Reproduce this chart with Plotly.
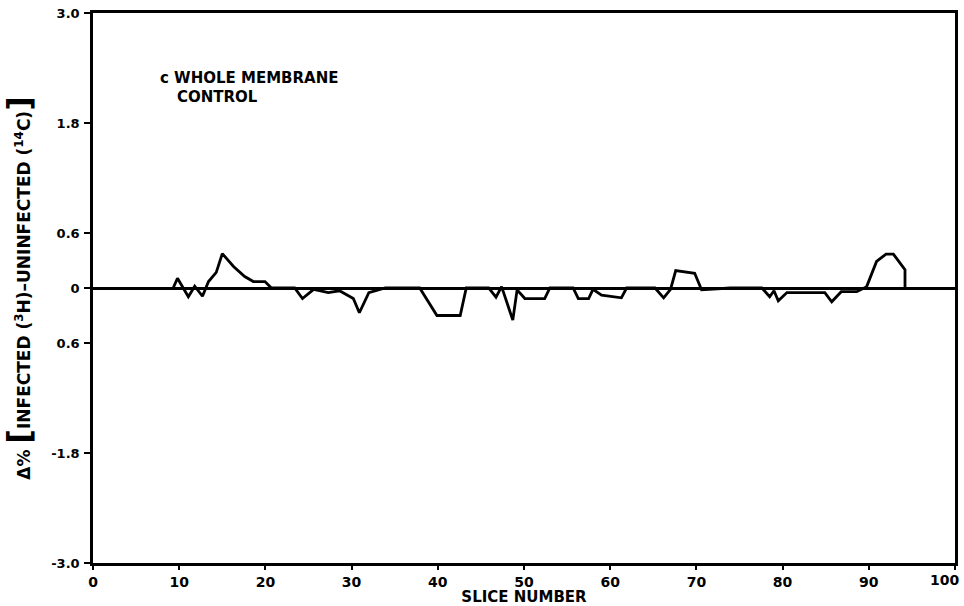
import plotly.graph_objects as go

# Difference profile along the gel (slice number vs delta %)
slice_no = [9.3, 9.8, 11.06, 11.8, 12.7, 13.4, 14.3, 15.0, 16.3, 17.6, 18.6, 19.95, 20.7,
            23.4, 24.3, 25.6, 27.3, 28.6, 30.2, 30.9, 32.0, 33.9,
            37.9, 39.9, 42.6, 43.3,
            45.9, 46.75, 47.4, 48.7, 49.2, 50.1, 52.4, 53.0,
            55.7, 56.3, 57.5, 58.0, 59.0, 61.3, 61.9,
            65.2, 66.2, 67.0, 67.6, 69.8, 70.6, 73.9,
            77.6, 78.5, 79.0, 79.5, 80.5, 84.9, 85.7, 86.8, 88.6, 89.75, 90.9, 92.0, 92.85, 94.2, 94.2]
delta_pct = [0.0, 0.107, -0.096, 0.02, -0.09, 0.07, 0.17, 0.375, 0.235, 0.125, 0.07, 0.07, 0.0,
             0.0, -0.115, -0.015, -0.05, -0.03, -0.115, -0.27, -0.05, 0.0,
             0.0, -0.30, -0.30, 0.0,
             0.0, -0.10, 0.015, -0.35, -0.02, -0.115, -0.115, 0.0,
             0.0, -0.115, -0.115, -0.015, -0.077, -0.107, 0.0,
             0.0, -0.107, -0.015, 0.19, 0.16, -0.02, 0.0,
             0.0, -0.095, -0.03, -0.14, -0.05, -0.05, -0.15, -0.04, -0.04, 0.015, 0.29, 0.37, 0.37, 0.2, 0.0]

x_ticks = [0, 10, 20, 30, 40, 50, 60, 70, 80, 90, 100]
x_tick_labels = ["0", "10", "20", "30", "40", "50", "60", "70", "80", "90", "100"]
y_ticks = [3.0, 1.8, 0.6, 0.0, -0.6, -1.8, -3.0]
y_tick_labels = ["3.0", "1.8", "0.6", "0", "0.6", "-1.8", "-3.0"]

FONT = "DejaVu Sans"
TICK_FONT = dict(family=FONT, size=14, color="black", weight="bold")

fig = go.Figure()
fig.add_trace(go.Scatter(
    x=slice_no, y=delta_pct, mode="lines",
    line=dict(color="black", width=2.8, shape="linear"),
    showlegend=False, hoverinfo="skip",
))

# The last x label sits flush against the right edge, so it is placed
# as a right-anchored annotation instead of a centred tick label.
axis_labels = x_tick_labels[:-1] + [""]
edge_label = dict(
    x=x_ticks[-1], y=0, xref="x", yref="paper",
    xanchor="right", yanchor="top", xshift=6, yshift=-7,
    showarrow=False, text=x_tick_labels[-1], font=TICK_FONT,
)

fig.update_layout(
    width=964, height=606,
    margin=dict(l=93, r=9, t=13, b=43),
    paper_bgcolor="white", plot_bgcolor="white",
    font=dict(family=FONT, color="black", size=13),
    xaxis=dict(
        range=[0, 100], tickvals=x_ticks, ticktext=axis_labels,
        automargin=False,
        showgrid=False, zeroline=False,
        showline=True, linecolor="black", linewidth=2.5, mirror=True,
        ticks="outside", ticklen=4, tickwidth=2, tickcolor="black",
        ticklabelstandoff=0,
        tickfont=TICK_FONT,
        title=dict(text="SLICE NUMBER", standoff=4,
                   font=dict(family=FONT, size=15, color="black", weight="bold")),
    ),
    yaxis=dict(
        range=[-3.0, 3.0], tickvals=y_ticks, ticktext=y_tick_labels,
        automargin=False,
        showgrid=False, zeroline=True, zerolinecolor="black", zerolinewidth=2.5,
        showline=True, linecolor="black", linewidth=2.5, mirror=True,
        ticks="outside", ticklen=6, tickwidth=2, tickcolor="black",
        ticklabelstandoff=2,
        tickfont=dict(family=FONT, size=13, color="black", weight="bold"),
        title=dict(
            text="Δ% <span style='font-size:32px'>[</span>INFECTED (<sup>3</sup>H)–UNINFECTED (<sup>14</sup>C)<span style='font-size:32px'>]</span>",
            standoff=22,
            font=dict(family=FONT, size=17, color="black", weight="bold"),
        ),
    ),
    annotations=[
        dict(x=0.0754, y=0.8827, xref="paper", yref="paper", xanchor="left", yanchor="middle",
             showarrow=False, align="left",
             text="c WHOLE MEMBRANE",
             font=dict(family=FONT, size=15, color="black", weight="bold")),
        dict(x=0.0951, y=0.8464, xref="paper", yref="paper", xanchor="left", yanchor="middle",
             showarrow=False, align="left",
             text="CONTROL",
             font=dict(family=FONT, size=15, color="black", weight="bold")),
        edge_label,
    ],
)

fig.write_html("out.html")
